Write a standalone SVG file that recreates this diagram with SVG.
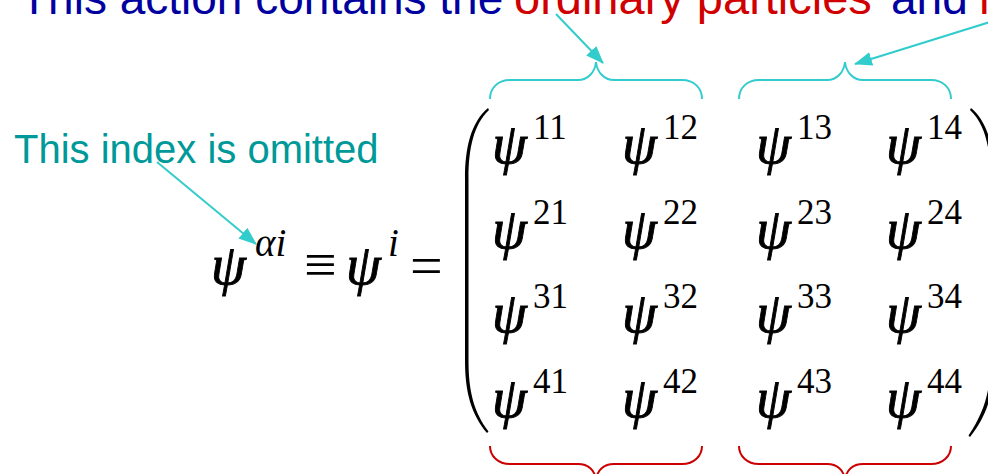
<svg xmlns="http://www.w3.org/2000/svg" width="988" height="474" viewBox="0 0 988 474">
<style>
.hdr{font-family:"Liberation Sans",Arial,sans-serif;font-size:46px}
.hdr2{font-family:"Liberation Sans",Arial,sans-serif;font-size:47px}
.blue{fill:#0000a0}
.red{fill:#d00000}
.lbl{font-family:"Liberation Sans",Arial,sans-serif;font-size:40px;fill:#009999}
.psi{font-family:"Liberation Serif","Times New Roman",serif;font-style:italic;font-size:56px;fill:#000;stroke:#000;stroke-width:0.9}
.sup{font-family:"Liberation Serif","Times New Roman",serif;font-size:35px;fill:#000}
.supi{font-family:"Liberation Serif","Times New Roman",serif;font-style:italic;font-size:39px;fill:#000}
.op{font-family:"Liberation Serif","DejaVu Serif",serif;font-size:58px;fill:#000}
.cb{fill:none;stroke:#33cccc;stroke-width:2}
.rb{fill:none;stroke:#cc0000;stroke-width:2}
.arr{fill:none;stroke:#33cccc;stroke-width:2;marker-end:url(#ah)}
</style>
<defs>
<marker id="ah" markerUnits="userSpaceOnUse" markerWidth="18" markerHeight="14" refX="17" refY="7" orient="auto">
<path d="M0,0 L18,7 L0,14 Z" fill="#33cccc"/>
</marker>
</defs>
<g id="header">
<text class="hdr blue" x="20" y="14">This action contains the</text>
<text class="hdr2 red" x="514" y="14">ordinary particles</text>
<text class="hdr blue" x="891" y="14">and</text>
<text class="hdr2 red" x="979" y="14">m</text>
</g>
<g id="label">
<text class="lbl" x="14" y="163">This index is omitted</text>
</g>
<g id="lhs">
<text class="psi" x="211" y="284">ψ</text>
<text class="supi" x="255" y="256">αi</text>
<text class="op" x="304" y="284">≡</text>
<text class="psi" x="346" y="284">ψ</text>
<text class="supi" x="388" y="256">i</text>
<text class="op" x="410" y="285">=</text>
</g>
<g id="matrix">
<path d="M488,108 C471,122 465,148 465,178 L465,360 C465,392 471,414 487,433 L488.5,431.5 C474,412 468.5,392 468.5,360 L468.5,178 C468.5,148 474,124 489,110 Z" fill="#000"/>
<path d="M971,108 C988,122 994,148 994,178 L994,360 C994,392 988,414 970,437 L968.5,435.5 C984,412 990.5,392 990.5,360 L990.5,178 C990.5,148 985,124 970,110 Z" fill="#000"/>
<g id="row1">
<text class="psi" x="492" y="163">ψ</text><text class="sup" x="533" y="139">11</text>
<text class="psi" x="622" y="163">ψ</text><text class="sup" x="663" y="139">12</text>
<text class="psi" x="756" y="163">ψ</text><text class="sup" x="797" y="139">13</text>
<text class="psi" x="886" y="163">ψ</text><text class="sup" x="927" y="139">14</text>
</g>
<g id="row2">
<text class="psi" x="492" y="247.5">ψ</text><text class="sup" x="533" y="223.5">21</text>
<text class="psi" x="622" y="247.5">ψ</text><text class="sup" x="663" y="223.5">22</text>
<text class="psi" x="756" y="247.5">ψ</text><text class="sup" x="797" y="223.5">23</text>
<text class="psi" x="886" y="247.5">ψ</text><text class="sup" x="927" y="223.5">24</text>
</g>
<g id="row3">
<text class="psi" x="492" y="332">ψ</text><text class="sup" x="533" y="308">31</text>
<text class="psi" x="622" y="332">ψ</text><text class="sup" x="663" y="308">32</text>
<text class="psi" x="756" y="332">ψ</text><text class="sup" x="797" y="308">33</text>
<text class="psi" x="886" y="332">ψ</text><text class="sup" x="927" y="308">34</text>
</g>
<g id="row4">
<text class="psi" x="492" y="416.5">ψ</text><text class="sup" x="533" y="392.5">41</text>
<text class="psi" x="622" y="416.5">ψ</text><text class="sup" x="663" y="392.5">42</text>
<text class="psi" x="756" y="416.5">ψ</text><text class="sup" x="797" y="392.5">43</text>
<text class="psi" x="886" y="416.5">ψ</text><text class="sup" x="927" y="392.5">44</text>
</g>
</g>
<g id="braces">
<path class="cb" d="M490,99 C490,88 498,80 510,80 L578,80 C588,80 595,72 596,62 C597,72 604,80 614,80 L682,80 C694,80 702,88 702,99"/>
<path class="cb" d="M739,99 C739,88 747,80 759,80 L827,80 C837,80 844,72 845,62 C846,72 853,80 863,80 L931,80 C943,80 951,88 951,99"/>
<path class="rb" d="M490,446 C490,456 498,464 510,464 L578,464 C588,464 595,470 596,480 C597,470 604,464 614,464 L682,464 C694,464 702,456 702,446"/>
<path class="rb" d="M739,446 C739,456 747,464 759,464 L827,464 C837,464 844,470 845,480 C846,470 853,464 863,464 L931,464 C943,464 951,456 951,446"/>
</g>
<g id="connectors">
<line class="arr" x1="556" y1="14" x2="603" y2="63"/>
<line class="arr" x1="990" y1="22" x2="855" y2="64"/>
<line class="arr" x1="157" y1="162" x2="256" y2="244"/>
</g>
</svg>
